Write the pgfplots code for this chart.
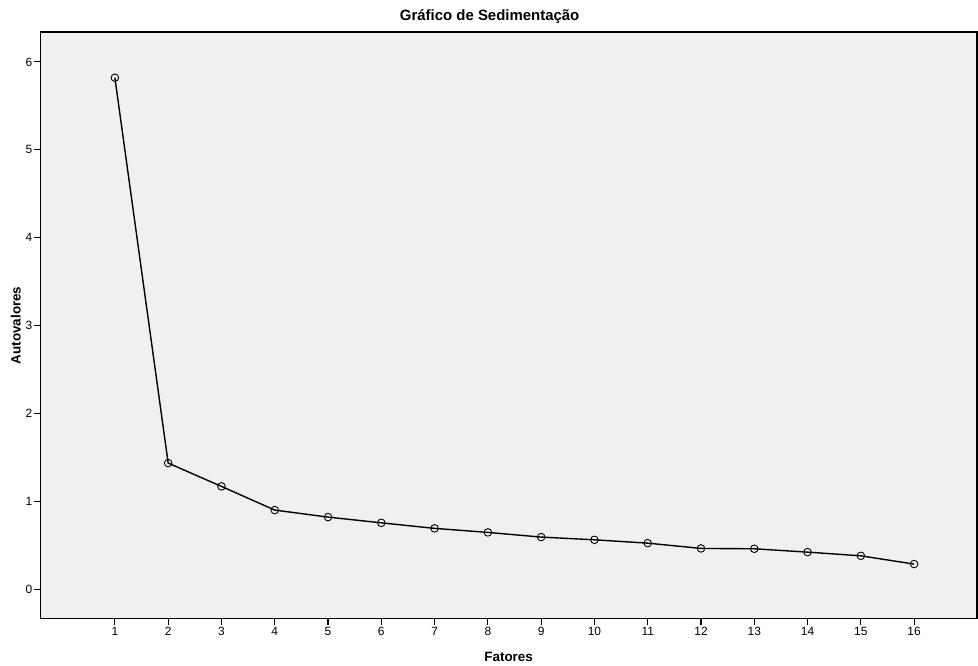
\documentclass[border=0pt]{standalone}
\usepackage{pgfplots}
\pgfplotsset{compat=1.18}
\usepackage{fontspec}
\setmainfont{Liberation Sans}
\definecolor{panel}{HTML}{F0F0F0}

\begin{document}
\begin{tikzpicture}
\begin{axis}[
    name=ax,
    scale only axis,
    width=937bp, height=587bp,
    xmin=-0.4, xmax=17.18,
    ymin=-0.33, ymax=6.34,
    axis background/.style={fill=panel},
    axis line style={line width=1.2bp},
    xtick={1,...,16},
    ytick={0,...,6},
    tick align=outside,
    major tick length=6bp,
    every tick/.style={black, line width=1.1bp},
    xtick pos=bottom, ytick pos=left,
    /pgf/number format/assume math mode=true,
    ticklabel style={font=\fontsize{12}{14}\selectfont},
    xticklabel style={yshift=1bp},
    yticklabel style={xshift=1.5bp},
    title={\textbf{Gráfico de Sedimentação}},
    title style={font=\fontsize{15}{17}\selectfont, yshift=-1bp, xshift=-19bp},
    xlabel={\textbf{Fatores}},
    ylabel={\textbf{Autovalores}},
    label style={font=\fontsize{13.5}{15}\selectfont},
    xlabel style={yshift=-10bp},
    ylabel style={yshift=-2bp},
]
\addplot[black, line width=1.4bp, mark=o, mark size=3.8bp,
         mark options={line width=0.9bp}] coordinates {
    (1,5.82) (2,1.44) (3,1.175) (4,0.906) (5,0.826) (6,0.761)
    (7,0.698) (8,0.652) (9,0.599) (10,0.568) (11,0.530) (12,0.470)
    (13,0.466) (14,0.428) (15,0.386) (16,0.292)
};
\end{axis}
\pgfresetboundingbox
\path ([xshift=-40.3bp,yshift=-47bp]ax.south west) rectangle ([xshift=1bp,yshift=32bp]ax.north east);
\end{tikzpicture}
\end{document}
